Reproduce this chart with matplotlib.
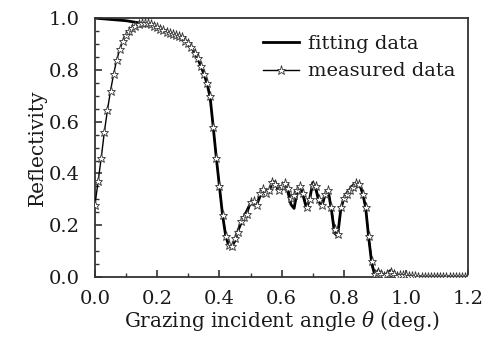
import numpy as np
import matplotlib
matplotlib.use("Agg")
import matplotlib.pyplot as plt
from matplotlib.ticker import MultipleLocator, FuncFormatter

plt.rcParams['font.family'] = ['DejaVu Serif']
plt.rcParams['mathtext.fontset'] = 'dejavuserif'

angle = np.round(np.arange(0, 1.2001, 0.01), 2)

measured = [
    0.28, 0.37, 0.46, 0.56, 0.645, 0.72, 0.785, 0.84, 0.88, 0.913,
    0.936, 0.951, 0.962, 0.970, 0.976, 0.980, 0.981, 0.980, 0.976, 0.968,
    0.965, 0.958, 0.953, 0.948, 0.944, 0.940, 0.936, 0.932, 0.928, 0.912,
    0.902, 0.888, 0.865, 0.845, 0.815, 0.785, 0.750, 0.700, 0.580, 0.460,
    0.350, 0.240, 0.160, 0.122, 0.120, 0.150, 0.175, 0.215, 0.232, 0.245,
    0.288, 0.295, 0.280, 0.325, 0.340, 0.325, 0.335, 0.368, 0.360, 0.335,
    0.352, 0.362, 0.345, 0.305, 0.315, 0.335, 0.350, 0.325, 0.270, 0.300,
    0.355, 0.350, 0.300, 0.280, 0.320, 0.335, 0.270, 0.185, 0.165, 0.270,
    0.305, 0.322, 0.335, 0.348, 0.362, 0.358, 0.320, 0.270, 0.160, 0.060,
    0.010, 0.020, 0.012, 0.005, 0.012, 0.020, 0.012, 0.005, 0.006, 0.008,
    0.006, 0.004, 0.003, 0.003, 0.002, 0.002, 0.002, 0.002, 0.002, 0.002,
    0.002, 0.002, 0.002, 0.002, 0.002, 0.002, 0.002, 0.002, 0.002, 0.002,
    0.002,
]

fitting = [
    1.000, 0.999, 0.998, 0.997, 0.996, 0.995, 0.994, 0.993, 0.992, 0.991,
    0.990, 0.988, 0.986, 0.984, 0.982, 0.980, 0.979, 0.977, 0.974, 0.969,
    0.965, 0.958, 0.953, 0.948, 0.944, 0.940, 0.936, 0.932, 0.926, 0.914,
    0.902, 0.888, 0.866, 0.845, 0.815, 0.785, 0.748, 0.695, 0.580, 0.460,
    0.350, 0.240, 0.160, 0.120, 0.118, 0.140, 0.180, 0.210, 0.235, 0.260,
    0.285, 0.290, 0.280, 0.310, 0.335, 0.320, 0.330, 0.370, 0.365, 0.330,
    0.350, 0.360, 0.330, 0.280, 0.265, 0.330, 0.350, 0.310, 0.265, 0.300,
    0.365, 0.340, 0.290, 0.275, 0.320, 0.330, 0.260, 0.170, 0.158, 0.260,
    0.305, 0.325, 0.340, 0.355, 0.365, 0.360, 0.325, 0.270, 0.150, 0.050,
    0.005, 0.025, 0.015, 0.003, 0.015, 0.025, 0.015, 0.004, 0.006, 0.008,
    0.005, 0.003, 0.002, 0.002, 0.001, 0.001, 0.001, 0.001, 0.001, 0.001,
    0.001, 0.001, 0.001, 0.001, 0.001, 0.001, 0.001, 0.001, 0.001, 0.001,
    0.001,
]

text_color = '#1a1a1a'

fig = plt.figure(figsize=(4.86, 3.42), dpi=100)
ax = fig.add_axes([0.1955, 0.19, 0.768, 0.757])

ax.plot(angle, fitting, color='black', lw=2.0, label='fitting data', zorder=2)
ax.plot(angle, measured, color='black', lw=1.0, marker='*', markersize=6.5,
        markerfacecolor='white', markeredgecolor='#333333', markeredgewidth=0.6,
        label='measured data', zorder=3)

ax.set_xlim(0, 1.2)
ax.set_ylim(0, 1.0)
ax.xaxis.set_major_locator(MultipleLocator(0.2))
ax.xaxis.set_minor_locator(MultipleLocator(0.1))
ax.yaxis.set_major_locator(MultipleLocator(0.2))
ax.yaxis.set_minor_locator(MultipleLocator(0.05))
ax.xaxis.set_major_formatter(FuncFormatter(lambda v, p: f"{v:.1f}"))
ax.yaxis.set_major_formatter(FuncFormatter(lambda v, p: f"{v:.1f}"))
ax.tick_params(which='both', direction='in', top=False, right=False,
               labelsize=14, colors='#333333', labelcolor=text_color)
ax.tick_params(which='major', length=5, width=1.2)
ax.tick_params(which='minor', length=3, width=1.0)
ax.tick_params(axis='x', which='major', pad=9)
ax.tick_params(axis='y', which='major', pad=11)
for s in ax.spines.values():
    s.set_linewidth(1.3)
    s.set_color('#333333')

ax.set_xlabel(r'Grazing incident angle $\theta$ (deg.)', fontsize=14.4, color=text_color)
ax.set_ylabel('Reflectivity', fontsize=14.5, color=text_color)
ax.xaxis.set_label_coords(0.5, -0.125)
ax.yaxis.set_label_coords(-0.128, 0.5)

leg = ax.legend(loc='upper left', frameon=False, fontsize=14, handlelength=1.85,
                handletextpad=0.45, bbox_to_anchor=(0.45, 0.936),
                borderpad=0, borderaxespad=0, labelspacing=0.5)
for t in leg.get_texts():
    t.set_color(text_color)

fig.savefig('out.png', dpi=100)
